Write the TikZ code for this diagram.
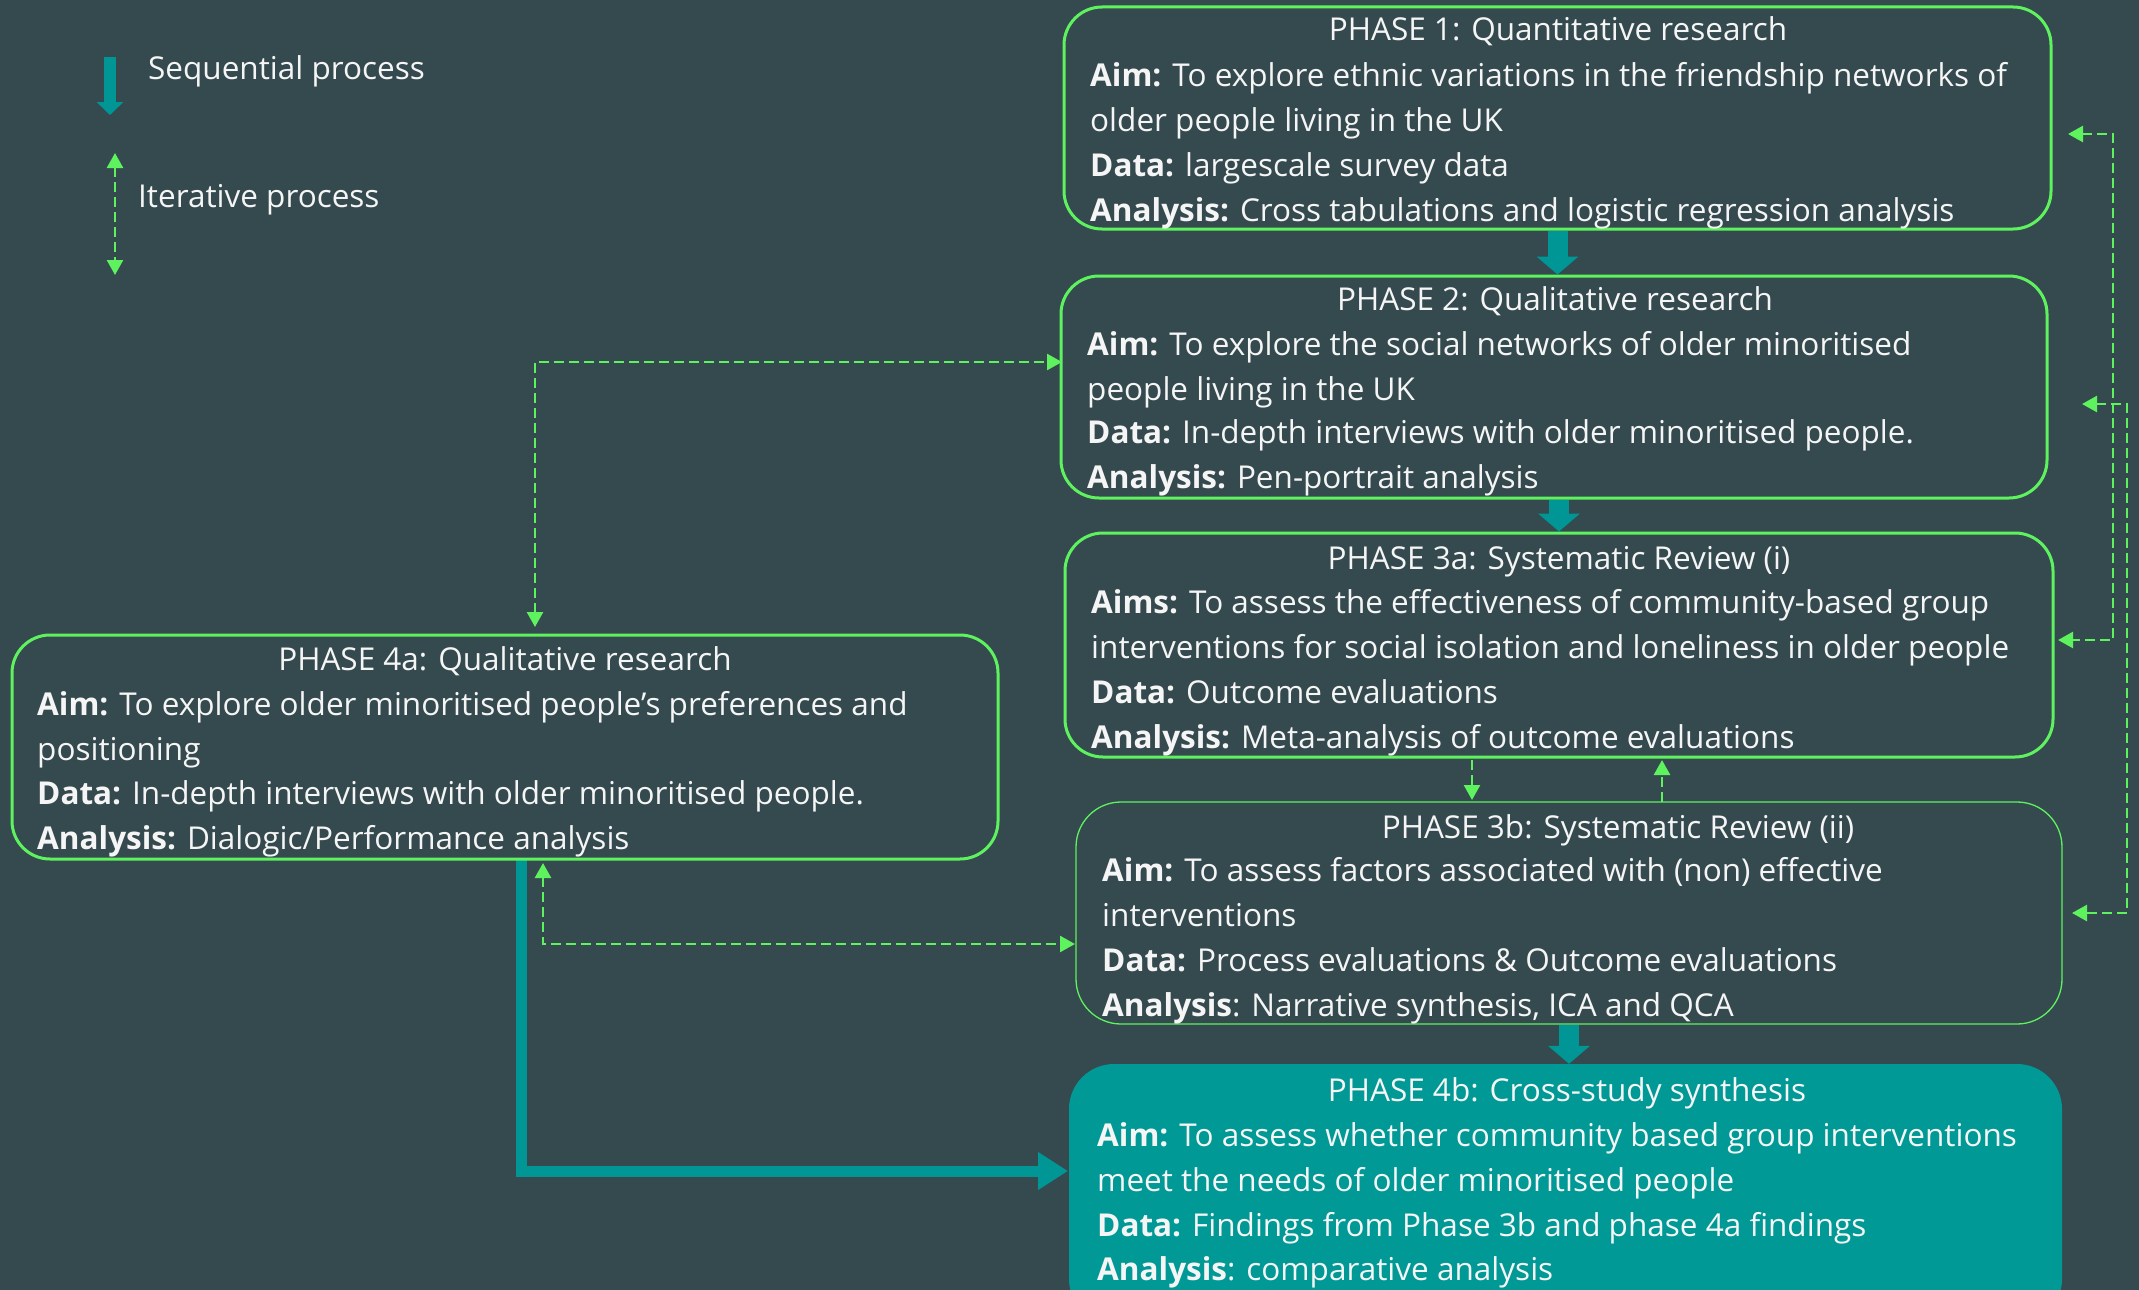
\documentclass[tikz,border=0pt]{standalone}
\usepackage{fontspec}
\setmainfont{Open Sans}
\usetikzlibrary{arrows.meta,calc}
\definecolor{bgc}{RGB}{52,74,79}
\definecolor{grn}{RGB}{95,242,95}
\definecolor{tealc}{RGB}{0,150,150}
\definecolor{boxteal}{RGB}{0,153,150}
\definecolor{txt}{RGB}{245,245,245}
\newcommand\bodyfnt{\fontsize{31.5}{38}\selectfont}
\pgfdeclarelayer{bglayer}
\pgfdeclarelayer{arrowlayer}
\pgfsetlayers{bglayer,arrowlayer,main}
\tikzset{
  box/.style={draw=grn, line width=3pt, rounded corners=38pt, inner sep=0pt, anchor=center},
  thinbox/.style={draw=grn, line width=1.3pt, rounded corners=45pt, inner sep=0pt, anchor=center},
  fillbox/.style={fill=boxteal, draw=none, rounded corners=45pt, inner sep=0pt, anchor=center},
  tl/.style={anchor=base west, inner sep=0pt, text=txt, font=\bodyfnt},
  ttl/.style={anchor=base, inner sep=0pt, text=txt, font=\bodyfnt},
  seqarrow/.style={draw=tealc, line width=20pt, -{Triangle[width=41pt,length=18pt]}},
  seqL/.style={draw=tealc, line width=11pt, -{Triangle[width=36pt,length=30pt]}},
  iterline/.style={draw=grn, line width=2.5pt, dash pattern=on 10pt off 5pt},
  iterboth/.style={iterline, {Triangle[width=16pt,length=15pt]}-{Triangle[width=16pt,length=15pt]}},
  iterone/.style={iterline, -{Triangle[width=16pt,length=15pt]}},
}
\begin{document}
\begin{tikzpicture}[x=1pt,y=-1pt]
\useasboundingbox (0,0) rectangle (2139,1290);
\begin{pgfonlayer}{bglayer}
\fill[bgc] (0,0) rectangle (2139,1290);
\end{pgfonlayer}
\clip (0,0) rectangle (2139,1290);

% boxes
\node[box, minimum width=987pt, minimum height=222pt] (p1) at (1557.5,118) {};
\node[box, minimum width=986pt, minimum height=222pt] (p2) at (1554,387) {};
\node[box, minimum width=988pt, minimum height=224pt] (p3a) at (1559,645) {};
\node[thinbox, minimum width=986pt, minimum height=222pt] (p3b) at (1569,913) {};
\node[fillbox, minimum width=993pt, minimum height=260pt] (p4b) at (1565.5,1194) {};
\node[box, minimum width=986pt, minimum height=224pt] (p4a) at (505,747) {};

% coordinates for free ends
\coordinate (lgs1) at (110,57);
\coordinate (lgs2) at (110,115);
\coordinate (lgi1) at (115,153);
\coordinate (lgi2) at (115,275);
\coordinate (c4aTop) at (535,627);
\coordinate (c2Left) at (1062,362);
\coordinate (c4aBot) at (543,863);
\coordinate (c3bLeft) at (1075,944);
\coordinate (d3aS) at (1472,760);
\coordinate (d3bN) at (1472,800);
\coordinate (u3bN) at (1662,802);
\coordinate (u3aS) at (1662,760);
\coordinate (rA1) at (2068,134);
\coordinate (rA2) at (2058,640);
\coordinate (rB1) at (2082,404);
\coordinate (rB2) at (2072,913);
\coordinate (s4a) at (521,859);
\coordinate (e4b) at (1068,1171);

\begin{pgfonlayer}{arrowlayer}
% legend arrows
\draw[draw=tealc, line width=12pt, -{Triangle[width=26pt,length=13pt]}] (lgs1) -- (lgs2);
\draw[iterboth] (lgi1) -- (lgi2);
% sequential arrows
\draw[seqarrow] (p1.south) -- (p1.south |- p2.north);
\draw[seqarrow] (p3a.north |- p2.south) -- (p3a.north);
\draw[seqarrow] (p3b.south) -- (p3b.south |- p4b.north);
\draw[seqL] (s4a) |- (e4b);
% iterative arrows
\draw[iterboth] (c4aTop) |- (c2Left);
\draw[iterboth] (c4aBot) |- (c3bLeft);
\draw[iterone] (d3aS) -- (d3bN);
\draw[iterone] (u3bN) -- (u3aS);
\draw[iterboth] (rA1) -- ++(45,0) |- (rA2);
\draw[iterboth] (rB1) -- ++(45,0) |- (rB2);
\end{pgfonlayer}

% legend text
\node[tl] (lgst) at (148,80) {Sequential process};
\node[tl] (lgit) at (138,207) {Iterative process};

% Phase 1
\node[ttl] (t1) at (1558,41) {PHASE 1: Quantitative research};
\node[tl] (t1a) at (1090,86) {\textbf{Aim:} To explore ethnic variations in the friendship networks of};
\node[tl] (t1b) at (1090,131) {older people living in the UK};
\node[tl] (t1c) at (1090,176) {\textbf{Data:} largescale survey data};
\node[tl] (t1d) at (1090,221) {\textbf{Analysis:} Cross tabulations and logistic regression analysis};

% Phase 2
\node[ttl] (t2) at (1555,310) {PHASE 2: Qualitative research};
\node[tl] (t2a) at (1087,355) {\textbf{Aim:} To explore the social networks of older minoritised};
\node[tl] (t2b) at (1087,400) {people living in the UK};
\node[tl] (t2c) at (1087,443) {\textbf{Data:} In-depth interviews with older minoritised people.};
\node[tl] (t2d) at (1087,488) {\textbf{Analysis:} Pen-portrait analysis};

% Phase 3a
\node[ttl] (t3a) at (1559,569) {PHASE 3a: Systematic Review (i)};
\node[tl] (t3aa) at (1091,613) {\textbf{Aims:} To assess the effectiveness of community-based group};
\node[tl] (t3ab) at (1091,658) {interventions for social isolation and loneliness in older people};
\node[tl] (t3ac) at (1091,703) {\textbf{Data:} Outcome evaluations};
\node[tl] (t3ad) at (1091,748) {\textbf{Analysis:} Meta-analysis of outcome evaluations};

% Phase 3b
\node[ttl] (t3b) at (1618,838) {PHASE 3b: Systematic Review (ii)};
\node[tl] (t3ba) at (1102,881) {\textbf{Aim:} To assess factors associated with (non) effective};
\node[tl] (t3bb) at (1102,926) {interventions};
\node[tl] (t3bc) at (1102,971) {\textbf{Data:} Process evaluations \& Outcome evaluations};
\node[tl] (t3bd) at (1102,1016) {\textbf{Analysis}: Narrative synthesis, ICA and QCA};

% Phase 4b
\node[ttl] (t4b) at (1567,1101) {PHASE 4b: Cross-study synthesis};
\node[tl] (t4ba) at (1097,1146) {\textbf{Aim:} To assess whether community based group interventions};
\node[tl] (t4bb) at (1097,1191) {meet the needs of older minoritised people};
\node[tl] (t4bc) at (1097,1236) {\textbf{Data:} Findings from Phase 3b and phase 4a findings};
\node[tl] (t4bd) at (1097,1280) {\textbf{Analysis}: comparative analysis};

% Phase 4a
\node[ttl] (t4a) at (505,670) {PHASE 4a: Qualitative research};
\node[tl] (t4aa) at (37,715) {\textbf{Aim:} To explore older minoritised people’s preferences and};
\node[tl] (t4ab) at (37,760) {positioning};
\node[tl] (t4ac) at (37,804) {\textbf{Data:} In-depth interviews with older minoritised people.};
\node[tl] (t4ad) at (37,849) {\textbf{Analysis:} Dialogic/Performance analysis};
\end{tikzpicture}
\end{document}
